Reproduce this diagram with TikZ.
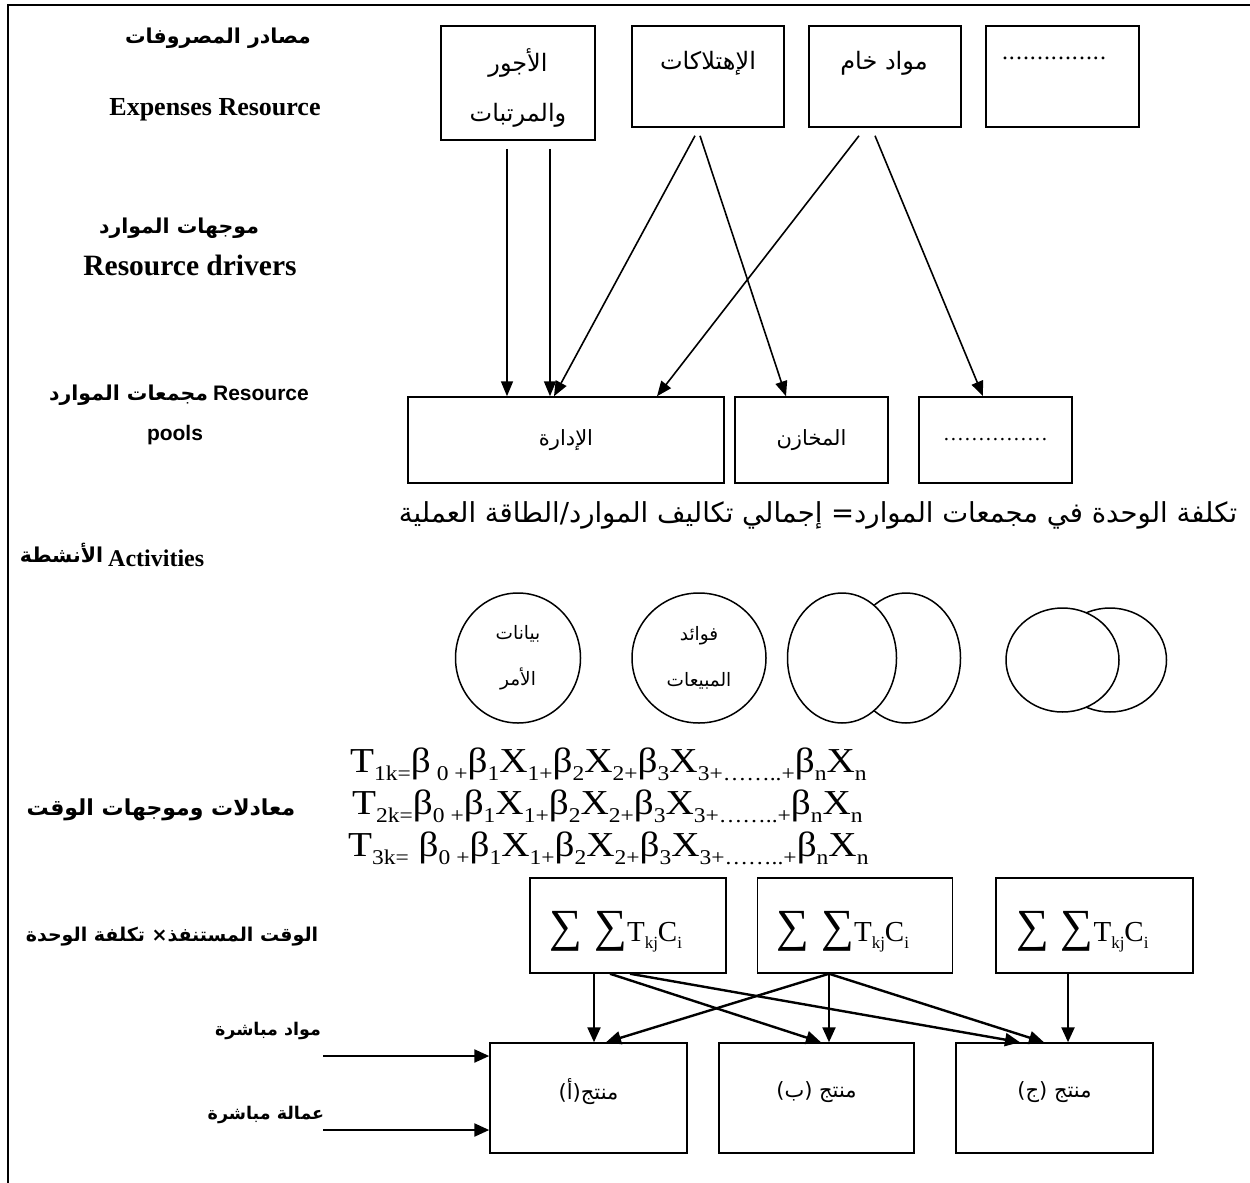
\documentclass[tikz,border=0pt]{standalone}
\usepackage{fontspec}
\usepackage{graphicx}
\setmainfont{Liberation Serif}
\newfontfamily\arabicfont[Script=Arabic]{DejaVu Sans}
\newfontfamily\arialfont{Liberation Sans}
\usetikzlibrary{arrows.meta,shapes.geometric}
\TeXXeTstate=1
\newcommand{\artxt}[1]{{\arabicfont\beginR #1\endR}}
\newcommand{\lowtxt}[1]{\raisebox{-.24em}{\fontsize{21}{21}\selectfont #1}}
\newcommand{\eqrow}[1]{\scalebox{1.12}[1]{#1}}
\newcommand{\sumterm}{{\fontsize{46}{46}\selectfont ∑ ∑}{\fontsize{29}{29}\selectfont T\raisebox{-.25em}{\fontsize{17}{17}\selectfont kj}C\raisebox{-.25em}{\fontsize{17}{17}\selectfont i}}}
\newcommand{\dotrow}{\hbox to 105pt{\leaders\hbox to 7pt{\hss.\hss}\hfill}}

\tikzset{
  box/.style={draw, line width=1.5pt, inner sep=0pt},
  act/.style={draw, line width=1.5pt, shape=ellipse, inner sep=0pt},
  flow/.style={-{Triangle[length=15pt,width=12pt]}, line width=1.6pt},
  bigflow/.style={-{Triangle[length=15pt,width=13pt]}, line width=2.4pt},
  lbl/.style={font=\fontsize{20.5}{24}\selectfont\bfseries},
  englbl/.style={font=\fontsize{26}{30}\selectfont\bfseries},
  boxtxt/.style={font=\fontsize{24}{50}\selectfont, align=center},
  pooltxt/.style={font=\fontsize{21}{24}\selectfont},
  eqn/.style={anchor=base west, inner sep=0pt, font=\fontsize{35}{35}\selectfont}
}

\begin{document}
\begin{tikzpicture}[x=1pt, y=-1pt]
  \useasboundingbox (0,0) rectangle (1250,1183);
  \draw[line width=2.5pt] (8,1183) -- (8,5) -- (1250,5);

  \node (srclbl) at (218, 38) [lbl] {\artxt{مصادر المصروفات}};
  \node (srceng) at (215, 110) [englbl] {Expenses Resource};
  \node (drvlbl) at (179, 228) [lbl] {\artxt{موجهات الموارد}};
  \node (drveng) at (190, 265) [englbl, font=\fontsize{29.5}{30}\selectfont\bfseries] {Resource drivers};
  \node (poollbl) at (179, 395) [lbl] {\artxt{مجمعات الموارد} {\arialfont\fontsize{21}{24}\selectfont Resource}};
  \node (pooleng) at (175, 435) [lbl] {\arialfont\fontsize{21}{24}\selectfont pools};
  \node (actlbl) at (112, 555) [lbl] {\raisebox{4pt}{\artxt{الأنشطة}} {\fontsize{24}{24}\selectfont Activities}};
  \node (eqlbl) at (161, 810) [lbl, font=\fontsize{22}{24}\selectfont\bfseries] {\artxt{معادلات وموجهات الوقت}};
  \node (costlbl) at (172, 937) [lbl, font=\fontsize{19}{24}\selectfont\bfseries] {\artxt{الوقت المستنفذ× تكلفة الوحدة}};
  \node (matlbl) at (268, 1031) [lbl, font=\fontsize{17.5}{24}\selectfont\bfseries] {\artxt{مواد مباشرة}};
  \node (lablbl) at (266, 1115) [lbl, font=\fontsize{17.5}{24}\selectfont\bfseries] {\artxt{عمالة مباشرة}};

  \node (wages) at (518, 83) [box, minimum width=154, minimum height=114] {};
  \node (deprec) at (708, 76.5) [box, minimum width=152, minimum height=101] {};
  \node (raw) at (885, 76.5) [box, minimum width=152, minimum height=101] {};
  \node (othersrc) at (1062.5, 76.5) [box, minimum width=153, minimum height=101] {};
  \node (wagestxt) at (518, 88) [boxtxt] {\artxt{الأجور}\\\artxt{والمرتبات}};
  \node (deprectxt) at (708, 63) [boxtxt] {\artxt{الإهتلاكات}};
  \node (rawtxt) at (884, 63) [boxtxt] {\artxt{مواد خام}};
  \node (othersrctxt) at (1054, 58) [boxtxt] {\dotrow};

  \node (admin) at (566, 440) [box, minimum width=316, minimum height=86, pooltxt] {\artxt{الإدارة}};
  \node (store) at (811.5, 440) [box, minimum width=153, minimum height=86, pooltxt] {\artxt{المخازن}};
  \node (otherpool) at (995.5, 440) [box, minimum width=153, minimum height=86, pooltxt] {\dotrow};

  \coordinate (w1) at ([xshift=-11, yshift=-8]wages.south);
  \coordinate (w2) at ([xshift=32, yshift=-8]wages.south);
  \coordinate (d1) at ([xshift=-13, yshift=-8]deprec.south);
  \coordinate (d2) at ([xshift=-8, yshift=-8]deprec.south);
  \coordinate (r1) at ([xshift=-26, yshift=-8]raw.south);
  \coordinate (r2) at ([xshift=-10, yshift=-8]raw.south);
  \draw[flow] (w1) -- (w1 |- admin.north);
  \draw[flow] (w2) -- (w2 |- admin.north);
  \draw[flow] (d1) -- ([xshift=-12]admin.north);
  \draw[flow] (d2) -- ([xshift=-25.5]store.north);
  \draw[flow] (r1) -- ([xshift=91]admin.north);
  \draw[flow] (r2) -- ([xshift=-12.5]otherpool.north);

  \node (unitcost) at (818, 515) [font=\fontsize{27.5}{28}\selectfont] {\artxt{تكلفة الوحدة في مجمعات الموارد= إجمالي تكاليف الموارد/الطاقة العملية}};

  \node (order) at (518, 658) [act, minimum width=125, minimum height=130, boxtxt, font=\fontsize{18.5}{46}\selectfont] {\artxt{بيانات}\\\artxt{الأمر}};
  \node (sales) at (699, 658) [act, minimum width=134, minimum height=130, boxtxt, font=\fontsize{18.5}{46}\selectfont] {\artxt{فوائد}\\\artxt{المبيعات}};
  \node (act3b) at (906, 658) [act, minimum width=109, minimum height=130] {};
  \node (act3a) at (842, 658) [act, fill=white, minimum width=109, minimum height=130] {};
  \node (act4b) at (1110, 660) [act, minimum width=113, minimum height=104] {};
  \node (act4a) at (1062.5, 660) [act, fill=white, minimum width=113, minimum height=104] {};

  \node (eq1) at (350, 772) [eqn] {\eqrow{T\lowtxt{1k=}β\lowtxt{ 0 +}β\lowtxt{1}X\lowtxt{1+}β\lowtxt{2}X\lowtxt{2+}β\lowtxt{3}X\lowtxt{3+……..+}β\lowtxt{n}X\lowtxt{n}}};
  \node (eq2) at (352, 814) [eqn] {\eqrow{T\lowtxt{2k=}β\lowtxt{0 +}β\lowtxt{1}X\lowtxt{1+}β\lowtxt{2}X\lowtxt{2+}β\lowtxt{3}X\lowtxt{3+……..+}β\lowtxt{n}X\lowtxt{n}}};
  \node (eq3) at (348, 856) [eqn] {\eqrow{T\lowtxt{3k=} β\lowtxt{0 +}β\lowtxt{1}X\lowtxt{1+}β\lowtxt{2}X\lowtxt{2+}β\lowtxt{3}X\lowtxt{3+……..+}β\lowtxt{n}X\lowtxt{n}}};

  \node (sum1) at (628, 925.5) [box, minimum width=196, minimum height=95] {};
  \node (sum2) at (855, 925.5) [box, minimum width=195, minimum height=95] {};
  \node (sum3) at (1094.5, 925.5) [box, minimum width=197, minimum height=95] {};
  \node (sum1txt) at ([xshift=-12, yshift=-6]sum1.center) {\sumterm};
  \node (sum2txt) at ([xshift=-12, yshift=-6]sum2.center) {\sumterm};
  \node (sum3txt) at ([xshift=-12, yshift=-6]sum3.center) {\sumterm};

  \node (proda) at (588.5, 1098) [box, minimum width=197, minimum height=110] {};
  \node (prodb) at (816.5, 1098) [box, minimum width=195, minimum height=110] {};
  \node (prodc) at (1054.5, 1098) [box, minimum width=197, minimum height=110] {};
  \node (prodatxt) at ([yshift=6]proda.center) [pooltxt] {\artxt{منتج(أ)}};
  \node (prodbtxt) at ([yshift=6]prodb.center) [pooltxt] {\artxt{منتج (ب)}};
  \node (prodctxt) at ([yshift=6]prodc.center) [pooltxt] {\artxt{منتج (ج)}};

  \coordinate (s1a) at ([xshift=-34]sum1.south);
  \coordinate (s1b) at ([xshift=-18]sum1.south);
  \coordinate (s1c) at ([xshift=2]sum1.south);
  \coordinate (s2a) at ([xshift=-26]sum2.south);
  \coordinate (s3a) at ([xshift=-26.5]sum3.south);
  \draw[bigflow] (s1a) -- (s1a |- proda.north);
  \draw[bigflow] (s1b) -- ([xshift=4.5]prodb.north);
  \draw[bigflow] (s1c) -- ([xshift=-34.5]prodc.north);
  \draw[bigflow] (s2a) -- ([xshift=17.5]proda.north);
  \draw[bigflow] (s2a) -- (s2a |- prodb.north);
  \draw[bigflow] (s2a) -- ([xshift=-10.5]prodc.north);
  \draw[bigflow] (s3a) -- (s3a |- prodc.north);

  \coordinate (matin) at (323, 1056);
  \coordinate (labin) at (323, 1130);
  \draw[bigflow] (matin) -- (matin -| proda.west);
  \draw[bigflow] (labin) -- (labin -| proda.west);
\end{tikzpicture}
\end{document}
